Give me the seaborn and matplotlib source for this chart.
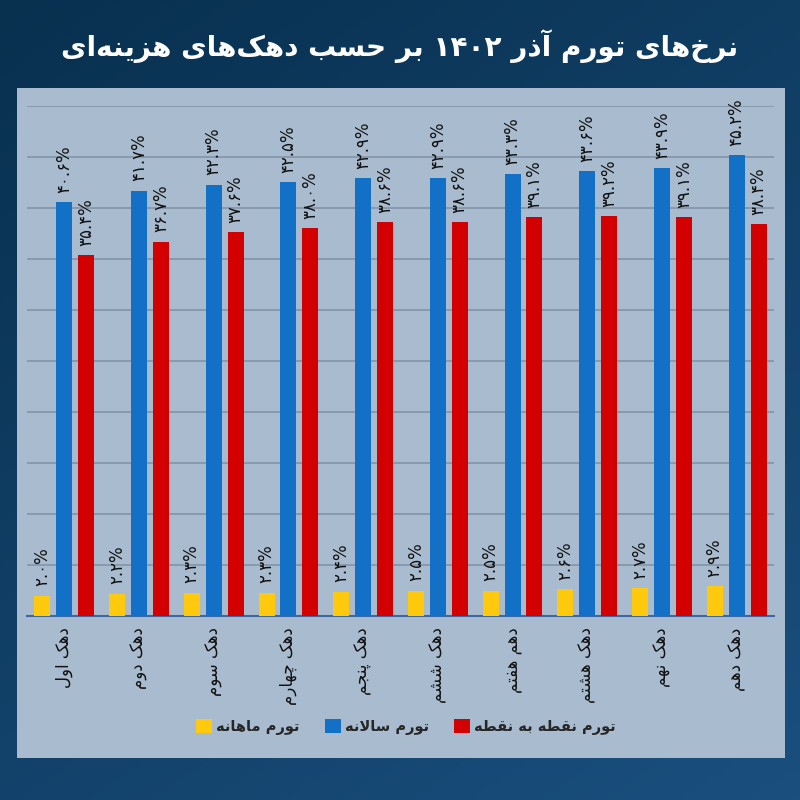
import numpy as np
import pandas as pd
import matplotlib
matplotlib.use("Agg")
import matplotlib.pyplot as plt
from matplotlib.patches import Rectangle, Patch
import seaborn as sns

# ---------------- data ----------------
categories = ["دهک اول", "دهک دوم", "دهک سوم", "دهک چهارم", "دهک پنجم",
              "دهک ششم", "دهم هفتم", "دهک هشتم", "دهک نهم", "دهک دهم"]
series_names = ["تورم ماهانه", "تورم سالانه", "تورم نقطه به نقطه"]
monthly = [2.0, 2.2, 2.3, 2.3, 2.4, 2.5, 2.5, 2.6, 2.7, 2.9]
annual = [40.6, 41.7, 42.3, 42.5, 42.9, 42.9, 43.3, 43.6, 43.9, 45.2]
point_to_point = [35.4, 36.7, 37.6, 38.0, 38.6, 38.6, 39.1, 39.2, 39.1, 38.4]
title_text = "نرخ‌های تورم آذر ۱۴۰۲ بر حسب دهک‌های هزینه‌ای"
colors = ["#ffc90e", "#1270c6", "#d20000"]

# ---------------- minimal Persian shaping ----------------
FORMS = {
    '\u0627': ('\uFE8D', '\uFE8E', None, None),
    '\u0622': ('\uFE81', '\uFE82', None, None),
    '\u0628': ('\uFE8F', '\uFE90', '\uFE91', '\uFE92'),
    '\u062A': ('\uFE95', '\uFE96', '\uFE97', '\uFE98'),
    '\u062B': ('\uFE99', '\uFE9A', '\uFE9B', '\uFE9C'),
    '\u062C': ('\uFE9D', '\uFE9E', '\uFE9F', '\uFEA0'),
    '\u062D': ('\uFEA1', '\uFEA2', '\uFEA3', '\uFEA4'),
    '\u062E': ('\uFEA5', '\uFEA6', '\uFEA7', '\uFEA8'),
    '\u062F': ('\uFEA9', '\uFEAA', None, None),
    '\u0630': ('\uFEAB', '\uFEAC', None, None),
    '\u0631': ('\uFEAD', '\uFEAE', None, None),
    '\u0632': ('\uFEAF', '\uFEB0', None, None),
    '\u0698': ('\uFB8A', '\uFB8B', None, None),
    '\u0633': ('\uFEB1', '\uFEB2', '\uFEB3', '\uFEB4'),
    '\u0634': ('\uFEB5', '\uFEB6', '\uFEB7', '\uFEB8'),
    '\u0635': ('\uFEB9', '\uFEBA', '\uFEBB', '\uFEBC'),
    '\u0636': ('\uFEBD', '\uFEBE', '\uFEBF', '\uFEC0'),
    '\u0637': ('\uFEC1', '\uFEC2', '\uFEC3', '\uFEC4'),
    '\u0638': ('\uFEC5', '\uFEC6', '\uFEC7', '\uFEC8'),
    '\u0639': ('\uFEC9', '\uFECA', '\uFECB', '\uFECC'),
    '\u063A': ('\uFECD', '\uFECE', '\uFECF', '\uFED0'),
    '\u0641': ('\uFED1', '\uFED2', '\uFED3', '\uFED4'),
    '\u0642': ('\uFED5', '\uFED6', '\uFED7', '\uFED8'),
    '\u06A9': ('\uFB8E', '\uFB8F', '\uFB90', '\uFB91'),
    '\u06AF': ('\uFB92', '\uFB93', '\uFB94', '\uFB95'),
    '\u0644': ('\uFEDD', '\uFEDE', '\uFEDF', '\uFEE0'),
    '\u0645': ('\uFEE1', '\uFEE2', '\uFEE3', '\uFEE4'),
    '\u0646': ('\uFEE5', '\uFEE6', '\uFEE7', '\uFEE8'),
    '\u0647': ('\uFEE9', '\uFEEA', '\uFEEB', '\uFEEC'),
    '\u0648': ('\uFEED', '\uFEEE', None, None),
    '\u06CC': ('\uFBFC', '\uFBFD', '\uFBFE', '\uFBFF'),
    '\u067E': ('\uFB56', '\uFB57', '\uFB58', '\uFB59'),
    '\u0686': ('\uFB7A', '\uFB7B', '\uFB7C', '\uFB7D'),
}
LAM_ALEF = {'\u0627': ('\uFEFB', '\uFEFC'), '\u0622': ('\uFEF5', '\uFEF6')}


def dual(c):
    return c in FORMS and FORMS[c][2] is not None


def shape_word(s):
    out = []
    i = 0
    n = len(s)
    while i < n:
        c = s[i]
        if c not in FORMS:
            out.append(c)
            i += 1
            continue
        prev = s[i - 1] if i > 0 else ''
        join_prev = dual(prev)
        if c == '\u0644' and i + 1 < n and s[i + 1] in LAM_ALEF:
            iso, fin = LAM_ALEF[s[i + 1]]
            out.append(fin if join_prev else iso)
            i += 2
            continue
        nxt = s[i + 1] if i + 1 < n else ''
        join_next = dual(c) and nxt in FORMS
        iso, fin, ini, med = FORMS[c]
        if join_prev and join_next:
            out.append(med)
        elif join_prev:
            out.append(fin)
        elif join_next:
            out.append(ini)
        else:
            out.append(iso)
        i += 1
    return ''.join(ch for ch in out if ch != '\u200c')


def fa(s):
    shaped = shape_word(s)
    runs = []
    cur = ''
    cur_digit = None
    for ch in shaped:
        is_d = bool(ch.isdigit() or (bool(cur_digit) and ch in '.%'))
        if cur_digit is None or is_d == cur_digit:
            cur += ch
        else:
            runs.append((cur, cur_digit))
            cur = ch
        cur_digit = is_d
    if cur:
        runs.append((cur, cur_digit))
    res = ''
    for text, d in reversed(runs):
        res += text if d else text[::-1]
    return res


def fa_digits(v):
    s = f"{v:.1f}%"
    return s.translate(str.maketrans("0123456789", "۰۱۲۳۴۵۶۷۸۹"))


# ---------------- frame ----------------
df = pd.DataFrame({
    "category": categories * 3,
    "series": [series_names[0]] * 10 + [series_names[1]] * 10 + [series_names[2]] * 10,
    "value": monthly + annual + point_to_point,
})

sns.set_theme(style="white")
plt.rcParams['font.family'] = ['DejaVu Sans']

W, H = 800, 800
fig = plt.figure(figsize=(8, 8), dpi=100)
fig.patch.set_facecolor("#0e3a60")

bg = fig.add_axes([0, 0, 1, 1], zorder=-10)
grad = np.linspace(0, 1, 256)
gx, gy = np.meshgrid(grad, grad)
bg.imshow(0.6 * gy + 0.4 * gx, cmap=matplotlib.colors.LinearSegmentedColormap.from_list(
    "bgc", ["#08304f", "#1a4f7e"]), aspect="auto", extent=[0, 1, 0, 1])
bg.set_axis_off()

fig.patches.append(Rectangle((17 / W, 1 - 758 / H), (785 - 17) / W, (758 - 88) / H,
                             transform=fig.transFigure, facecolor="#a9bccf",
                             edgecolor="none", zorder=-5))

ax = fig.add_axes([27 / W, 1 - 616 / H, (774 - 27) / W, (616 - 106) / H])
ax.set_facecolor("none")

sns.barplot(data=df, x="category", y="value", hue="series",
            hue_order=series_names, order=categories,
            palette=colors, width=0.88, gap=0.27, ax=ax, saturation=1,
            legend=False, zorder=3, linewidth=0, edgecolor="none")

ax.set_ylim(0, 50)
ax.set_xlim(-0.5, len(categories) - 0.5)
ax.set_yticks(np.arange(5, 51, 5))
ax.yaxis.grid(True, color="#8394a8", linewidth=1.2, zorder=0)
ax.set_yticklabels([])
ax.tick_params(axis="y", length=0)
for sp in ["top", "right", "left"]:
    ax.spines[sp].set_visible(False)
ax.spines["bottom"].set_color("#3c67a0")
ax.spines["bottom"].set_linewidth(1.5)
ax.set_xlabel("")
ax.set_ylabel("")

ax.set_xticks(np.arange(-0.5, len(categories), 1.0))
ax.set_xticklabels([])
ax.tick_params(axis="x", length=5, width=1.5, color="#3c67a0", direction="out")
for i, c in enumerate(categories):
    ax.text(i, -1.1, fa(c), rotation=90, ha="center", va="top",
            fontsize=12, color="#111111", fontweight="medium")

for container in ax.containers:
    for bar in container:
        h = bar.get_height()
        ax.text(bar.get_x() + bar.get_width() / 2, h + 0.9, fa_digits(h),
                rotation=90, ha="center", va="bottom", fontsize=12,
                color="#111111")

# title, fitted to the reference width
t = fig.text(0.5, 1 - 46 / H, fa(title_text), ha="center", va="center",
             fontsize=20, fontweight="bold", color="white")
renderer = fig.canvas.get_renderer()
wpx = t.get_window_extent(renderer).width
t.set_fontsize(20 * 676 / wpx)

handles = [Patch(facecolor=colors[k], edgecolor="none") for k in range(3)]
fig.legend(handles, [fa(s) for s in series_names], loc="center",
           bbox_to_anchor=(406 / W, 1 - 727 / H), ncol=3, frameon=False,
           handlelength=1.1, handleheight=1.1, columnspacing=1.7,
           handletextpad=0.3, prop={"weight": "bold", "size": 10.5})

fig.savefig("out.png", dpi=100, facecolor=fig.get_facecolor())
